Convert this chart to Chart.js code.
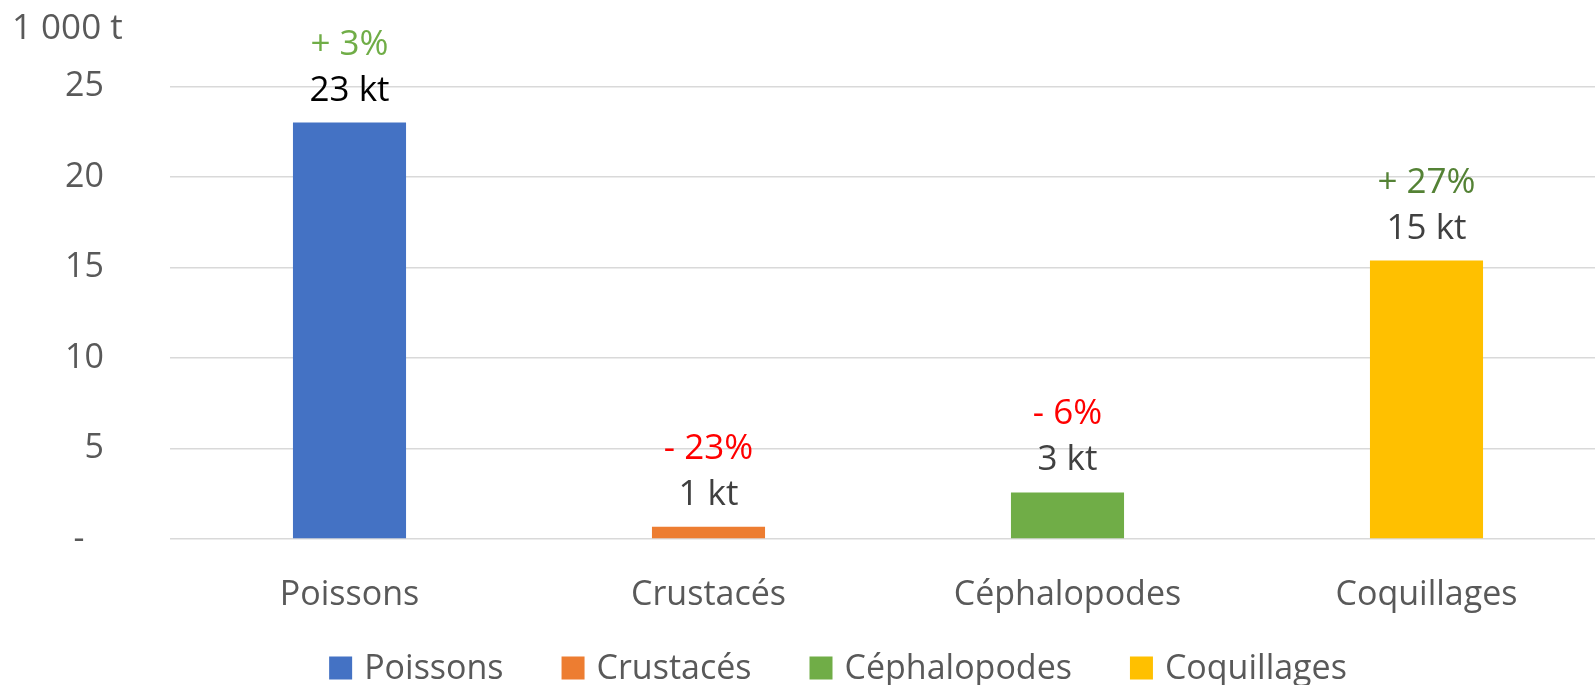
<!DOCTYPE html>
<html lang="fr">
<head>
  <meta charset="UTF-8" />
  <title>Volumes par espèce</title>
  <script src="https://cdn.jsdelivr.net/npm/chart.js"></script>
  <style>
    html, body { margin: 0; padding: 0; background: #fff; overflow: hidden; }
    canvas { display: block; }
  </style>
</head>
<body>
  <canvas id="chart" width="1612" height="685"></canvas>

  <script>
    // data
    const categories = ['Poissons', 'Crustacés', 'Céphalopodes', 'Coquillages'];
    const volumes = [23.0, 0.67, 2.57, 15.38];          // 1 000 t
    const volumeLabels = ['23 kt', '1 kt', '3 kt', '15 kt'];
    const changeLabels = ['+ 3%', '- 23%', '- 6%', '+ 27%'];
    const yTicks = [0, 5, 10, 15, 20, 25];
    const unitLabel = '1 000 t';

    const barColors = ['#4472C4', '#ED7D31', '#70AD47', '#FFC000'];
    const volumeColors = ['#000000', '#404040', '#404040', '#404040'];
    const changeColors = ['#70AD47', '#FF0000', '#FF0000', '#548235'];

    const FONT = "'Open Sans', sans-serif";
    const GREY = '#595959';

    // labels above the bars, unit in the corner, legend row at the bottom
    const labelsPlugin = {
      id: 'barLabels',
      afterDatasetsDraw(chart) {
        const ctx = chart.ctx;
        const meta = chart.getDatasetMeta(0);
        ctx.save();
        ctx.textAlign = 'center';
        ctx.textBaseline = 'middle';
        ctx.font = '35px ' + FONT;
        meta.data.forEach((bar, i) => {
          const yv = bar.y - 32;
          ctx.fillStyle = volumeColors[i];
          ctx.fillText(volumeLabels[i], bar.x, yv);
          ctx.fillStyle = changeColors[i];
          ctx.fillText(changeLabels[i], bar.x, yv - 46);
        });
        ctx.textAlign = 'left';
        ctx.fillStyle = GREY;
        ctx.fillText(unitLabel, 12, 29);

        // legend
        ctx.font = '34px ' + FONT;
        const box = 23, gap = 12, space = 58, cy = 669;
        const widths = categories.map(c => ctx.measureText(c).width);
        const total = widths.reduce((a, w) => a + box + gap + w, 0) + space * (categories.length - 1);
        let x = 838 - total / 2;
        categories.forEach((c, i) => {
          ctx.fillStyle = barColors[i];
          ctx.fillRect(x, cy - box / 2 - 1, box, box);
          ctx.fillStyle = GREY;
          ctx.fillText(c, x + box + gap, cy);
          x += box + gap + widths[i] + space;
        });
        ctx.restore();
      }
    };

    new Chart(document.getElementById('chart'), {
      type: 'bar',
      data: {
        labels: categories,
        datasets: [{
          data: volumes,
          backgroundColor: barColors,
          barPercentage: 0.315,
          categoryPercentage: 1
        }]
      },
      options: {
        responsive: false,
        devicePixelRatio: 1,
        animation: false,
        layout: { padding: { top: 84, right: 6, bottom: 0, left: 0 } },
        plugins: {
          tooltip: { enabled: false },
          legend: { display: false }
        },
        scales: {
          x: {
            grid: { display: false, drawTicks: false },
            border: { display: false },
            ticks: {
              color: GREY,
              font: { family: FONT, size: 34 },
              padding: 36,
              maxRotation: 0
            },
            afterFit: (s) => { s.height = 685 - 539; }
          },
          y: {
            min: yTicks[0],
            max: yTicks[yTicks.length - 1],
            afterBuildTicks: (s) => { s.ticks = yTicks.map(v => ({ value: v })); },
            grid: { color: '#D9D9D9', lineWidth: 1.5, drawTicks: false },
            border: { display: false },
            ticks: {
              color: GREY,
              font: { family: FONT, size: 34 },
              padding: 66,
              callback: (v) => v === 0 ? '-\u2007' : String(v)
            },
            afterFit: (s) => { s.width = 170; }
          }
        }
      },
      plugins: [labelsPlugin]
    });
  </script>
</body>
</html>
